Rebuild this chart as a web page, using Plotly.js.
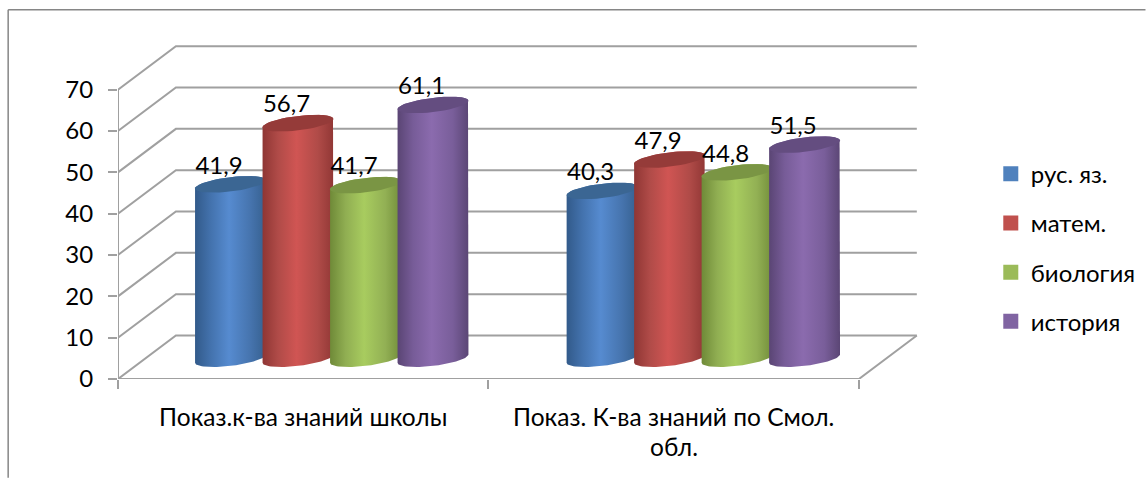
<!DOCTYPE html>
<html>
<head>
<meta charset="utf-8">
<script src="https://cdn.plot.ly/plotly-3.0.1.min.js"></script>
<style>html,body{margin:0;padding:0;background:#fff;overflow:hidden}</style>
</head>
<body>
<div id="chart" style="width:1147px;height:478px"></div>
<script>
// ---- data ----
const categories = ["Показ.к-ва знаний школы", "Показ. К-ва знаний по Смол."];
const categoryExtra = "обл.";
const seriesNames = ["рус. яз.", "матем.", "биология", "история"];
const rusValues = [41.9, 40.3];
const matValues = [56.7, 47.9];
const bioValues = [41.7, 44.8];
const hisValues = [61.1, 51.5];
const yTicks = [0, 10, 20, 30, 40, 50, 60, 70];

// ---- styling ----
const FONT = "Lato, 'Noto Sans', sans-serif";
const FS = 24;
const seriesValues = [rusValues, matValues, bioValues, hisValues];
const legendColors = ["#4f81bd", "#c0504d", "#9bbb59", "#8064a2"];
const topColors = ["#3b6693", "#953b39", "#7a9544", "#644d80"];
const gradients = [
  [[0, "#325a8a"], [0.22, "#4372ad"], [0.48, "#568bd0"], [0.78, "#4674ae"], [1, "#36608f"]],
  [[0, "#8f3634"], [0.22, "#b04b48"], [0.48, "#d05553"], [0.78, "#b04b48"], [1, "#913735"]],
  [[0, "#6f8a38"], [0.22, "#90ae52"], [0.48, "#a8cc5f"], [0.78, "#92b054"], [1, "#728d3a"]],
  [[0, "#5a4574"], [0.22, "#775c98"], [0.48, "#8b6bae"], [0.78, "#795e9a"], [1, "#5b4675"]]
];
const GRID = "#a0a0a0";

// ---- plot geometry ----
const W = 1147, H = 478;
const pxX = 371;                    // pixels per category
const pxY = 289.3 / 70;             // pixels per value unit
const xMax = 2.2, yMax = 90;
const L = 118, B = 379.3;
const R = L + xMax * pxX, T = B - yMax * pxY;
const depthX = 58 / pxX, depthY = 43.5 / pxY;
const baseY = 20.3 / pxY;           // cylinder base above floor front edge
const capLift = 1.2 / pxY;
const radX = 35.5 / pxX, stepX = 67.6 / pxX;
const groupCenters = [0.577, 1.580];
const tiltK = 4.15 / pxY, radB = 7.2 / pxY;

function ellipsePts(cx, cy, t0, t1) {
  const xs = [], ys = [];
  for (let i = 0; i <= 40; i++) {
    const t = t0 + (t1 - t0) * i / 40;
    xs.push(cx + radX * Math.cos(t));
    ys.push(cy + radB * Math.sin(t) + tiltK * Math.cos(t));
  }
  return [xs, ys];
}

const lineTrace = (x, y) => ({
  type: "scatter", mode: "lines", cliponaxis: false, showlegend: false, hoverinfo: "skip",
  x, y, line: { color: GRID, width: 2 }
});

const traces = [];
// back-wall grid, floor, front axes
yTicks.forEach(v => traces.push(lineTrace([0, depthX, 2 + depthX], [v, v + depthY, v + depthY])));
traces.push(lineTrace([0, 2, 2 + depthX], [0, 0, depthY]));
traces.push(lineTrace([0, 0], [0, 70]));

// cylinders
seriesValues.forEach((vals, s) => {
  vals.forEach((v, g) => {
    const cx = groupCenters[g] + (s - 1.5) * stepX;
    const topY = baseY + capLift + v;
    const low = ellipsePts(cx, baseY, Math.PI, 2 * Math.PI);
    const up = ellipsePts(cx, topY, 0, Math.PI);
    traces.push({
      type: "scatter", mode: "lines", cliponaxis: false, showlegend: false, hoverinfo: "skip",
      x: low[0].concat(up[0]), y: low[1].concat(up[1]),
      fill: "toself", line: { width: 0, color: "rgba(0,0,0,0)" },
      fillgradient: { type: "horizontal", colorscale: gradients[s] }
    });
    const cap = ellipsePts(cx, topY, 0, 2 * Math.PI);
    traces.push({
      type: "scatter", mode: "lines", cliponaxis: false, showlegend: false, hoverinfo: "skip",
      x: cap[0], y: cap[1], fill: "toself", fillcolor: topColors[s],
      line: { width: 0, color: "rgba(0,0,0,0)" }
    });
  });
});

// data labels
seriesValues.forEach((vals, s) => {
  traces.push({
    type: "scatter", mode: "text", cliponaxis: false, showlegend: false, hoverinfo: "skip",
    x: vals.map((v, g) => groupCenters[g] + (s - 1.5) * stepX - 11.5 / pxX),
    y: vals.map(v => baseY + capLift + v + 16.7 / pxY),
    text: vals.map(v => v.toFixed(1).replace(".", ",")),
    textposition: "middle center",
    textfont: { family: FONT, size: FS, color: "#000" }
  });
});

// legend entries
seriesNames.forEach((n, s) => {
  traces.push({
    type: "scatter", mode: "markers", name: n, legendgroup: n,
    x: [null], y: [null], hoverinfo: "skip",
    marker: { symbol: "square", size: 15, color: legendColors[s] }
  });
});

const paperX = px => (px - L) / (R - L);
const paperY = py => (B - py) / (B - T);

const layout = {
  width: W, height: H,
  margin: { l: L, r: W - R, t: T, b: H - B, pad: 0 },
  paper_bgcolor: "#fff", plot_bgcolor: "rgba(0,0,0,0)",
  font: { family: FONT, size: FS, color: "#000" },
  showlegend: true,
  legend: {
    x: paperX(991), y: paperY(152), xanchor: "left", yanchor: "top",
    tracegroupgap: 15, font: { family: FONT, size: FS, color: "#000" },
    bgcolor: "rgba(0,0,0,0)"
  },
  xaxis: {
    range: [0, xMax], tickmode: "array", tickvals: [0.5, 1.5], ticktext: categories,
    ticks: "", ticklabelstandoff: 21, showgrid: false, zeroline: false, fixedrange: true,
    showline: false,
    minor: { tickmode: "array", tickvals: [0, 1, 2], ticks: "outside", ticklen: 9, tickwidth: 2, tickcolor: GRID, showgrid: false },
    tickfont: { family: FONT, size: 24.5, color: "#000" }
  },
  yaxis: {
    range: [0, yMax], tickmode: "array", tickvals: yTicks, ticks: "outside", ticklen: 9, tickwidth: 2,
    tickcolor: GRID, ticklabelstandoff: 10, showgrid: false, zeroline: false, fixedrange: true,
    showline: false,
    tickfont: { family: FONT, size: FS, color: "#000" }
  },
  shapes: [
    { type: "line", xref: "paper", yref: "paper", x0: paperX(8), x1: paperX(8), y0: paperY(10), y1: paperY(478), line: { color: "#868686", width: 1.5 } },
    { type: "line", xref: "paper", yref: "paper", x0: paperX(8), x1: paperX(1147), y0: paperY(10), y1: paperY(10), line: { color: "#868686", width: 1.5 } }
  ],
  annotations: [
    { xref: "x", yref: "paper", x: 1.5, y: paperY(447), text: categoryExtra, showarrow: false,
      xanchor: "center", yanchor: "middle", font: { family: FONT, size: 24.5, color: "#000" } }
  ]
};

Plotly.newPlot("chart", traces, layout, { displayModeBar: false, responsive: false });
</script>
</body>
</html>
